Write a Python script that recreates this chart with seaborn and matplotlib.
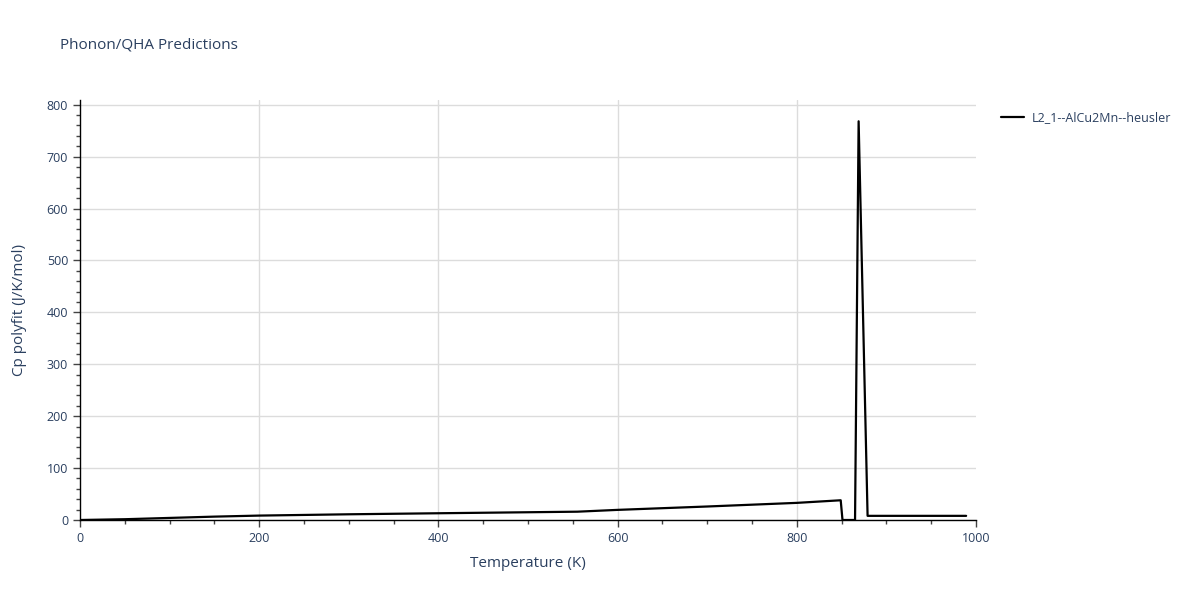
import matplotlib
matplotlib.use("Agg")
import matplotlib.pyplot as plt
import seaborn as sns
import pandas as pd
from matplotlib.ticker import MultipleLocator

temperature = [0, 50, 100, 150, 200, 300, 400, 555, 600, 700, 800, 849, 851, 865, 869, 879, 989]
cp_polyfit = [0, 1.5, 4, 6.5, 8.5, 11, 13, 16, 19.5, 26, 33, 38, 0, 0, 768, 8, 8]
series_name = "L2_1--AlCu2Mn--heusler"

df = pd.DataFrame({"Temperature (K)": temperature, "Cp polyfit (J/K/mol)": cp_polyfit,
                   "series": [series_name] * len(temperature)})

sns.set_theme(style="white")
plt.rcParams['font.family'] = ['Open Sans', 'DejaVu Sans']
txt = "#2a3f5f"

fig = plt.figure(figsize=(12, 6), dpi=100)
ax = fig.add_axes([80/1200, 80/600, 896/1200, 420/600])
sns.lineplot(data=df, x="Temperature (K)", y="Cp polyfit (J/K/mol)", hue="series",
             palette=["black"], sort=False, estimator=None, linewidth=1.6, ax=ax)

ax.set_xlim(0, 1000)
ax.set_ylim(0, 809)
ax.xaxis.set_major_locator(MultipleLocator(200))
ax.xaxis.set_minor_locator(MultipleLocator(50))
ax.yaxis.set_major_locator(MultipleLocator(100))
ax.yaxis.set_minor_locator(MultipleLocator(20))
ax.grid(True, which="major", color="#dcdcdc", linewidth=1)
ax.set_axisbelow(True)
for s in ["top", "right"]:
    ax.spines[s].set_visible(False)
for s in ["left", "bottom"]:
    ax.spines[s].set_color("black")
    ax.spines[s].set_linewidth(1)
ax.tick_params(axis="both", which="major", direction="out", length=5, width=1,
               color="#444444", labelsize=9, labelcolor=txt, bottom=True, left=True)
ax.tick_params(axis="both", which="minor", direction="out", length=3, width=1,
               color="#444444", bottom=True, left=True)
ax.set_xlabel("Temperature (K)", fontsize=11, color=txt, labelpad=8)
ax.set_ylabel("Cp polyfit (J/K/mol)", fontsize=11, color=txt, labelpad=14)

leg = ax.legend(loc="upper left", bbox_to_anchor=(1.015, 1.0), frameon=False,
                fontsize=9, handlelength=1.9, handletextpad=0.6, title=None)
for t in leg.get_texts():
    t.set_color(txt)

fig.text(60/1200, 1 - 45/600, "Phonon/QHA Predictions", fontsize=11, color=txt,
         va="center", ha="left")

fig.canvas.draw()
for tick in ax.xaxis.get_major_ticks():
    if abs(tick.get_loc() - 1000) < 1e-6 or abs(tick.get_loc()) < 1e-6:
        tick.gridline.set_visible(False)

fig.savefig("out.png", dpi=100, facecolor="white")
